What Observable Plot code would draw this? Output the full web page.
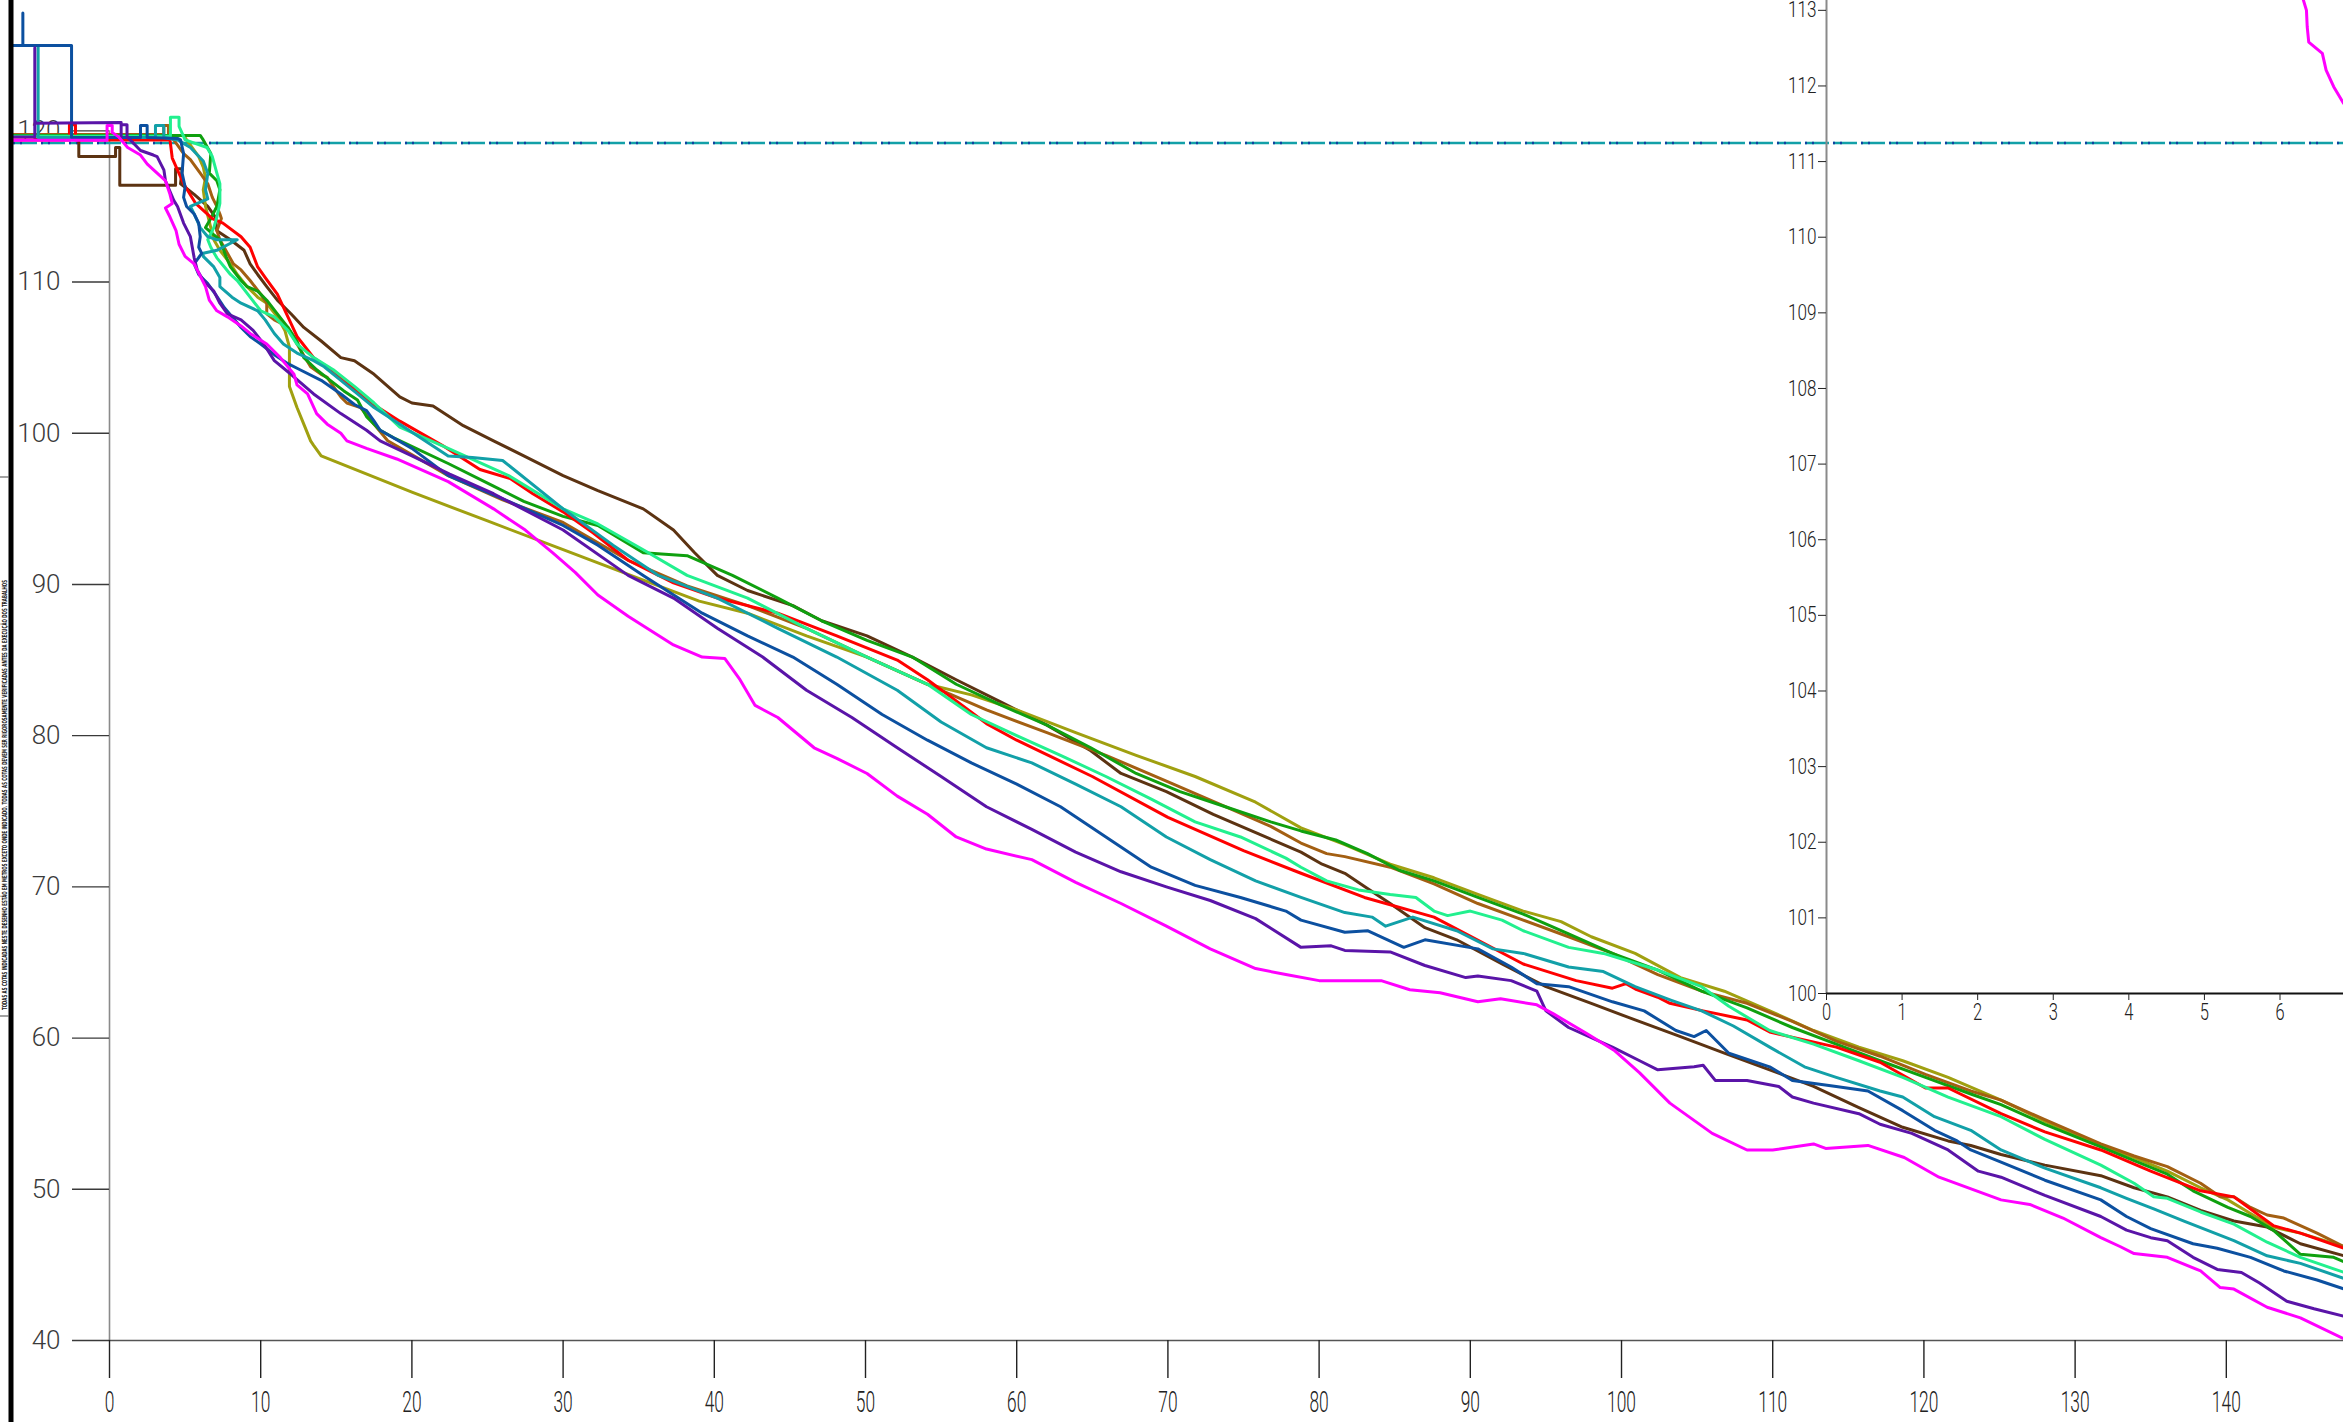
<!DOCTYPE html>
<html><head><meta charset="utf-8">
<script src="https://cdn.jsdelivr.net/npm/d3@7"></script>
<script src="https://cdn.jsdelivr.net/npm/@observablehq/plot@0.6"></script>
<style>
html,body{margin:0;padding:0;background:#fff;}
#wrap{position:relative;width:2343px;height:1422px;overflow:hidden;background:#fff;}
#main{position:absolute;left:0;top:0;}
#inset{position:absolute;left:1766px;top:0;}
#deco{position:absolute;left:0;top:0;pointer-events:none;}
</style></head><body>
<div id="wrap"><div id="main"></div><div id="inset"></div>
<svg id="deco" width="2343" height="1422"></svg></div>
<script>
// ---------- data ----------
const mainXTicks = [0,10,20,30,40,50,60,70,80,90,100,110,120,130,140];
const mainYTicks = [40,50,60,70,80,90,100,110,120];
const xExtent = [-6.35, 147.75];
const yExtent = [40, 128.62];
const dashLevel = 119.2;
const insetXTicks = [0,1,2,3,4,5,6];
const insetYTicks = [100,101,102,103,104,105,106,107,108,109,110,111,112,113];
const insetXExtent = [0, 6.84];
const insetYExtent = [100, 113.13];

const seriesNames  = ["magenta","purple","blue","teal","spring","red","green","olive","orange","brown"];
const seriesColors = ["#ff00ff","#5a14a8","#0c50a0","#12a0a8","#22f08e","#ff0000","#0fa00f","#a0a010","#a35f12","#5c3312"];

const magenta = [[-6.35,119.37],[-0.16,119.37],[-0.16,120.36],[0.18,120.36],[0.18,119.9],[0.6,119.6],[1.2,118.9],[2.05,118.4],[2.5,117.8],[3.15,117.2],[3.7,116.7],[4.0,115.8],[4.15,115.2],[3.7,114.9],[4.0,114.3],[4.4,113.4],[4.6,112.5],[5.0,111.7],[5.6,111.2],[6.35,109.7],[6.6,108.8],[7.1,108.1],[7.8,107.7],[8.7,107.1],[9.3,106.6],[10.4,105.9],[11.3,105.0],[12.2,103.9],[12.4,103.2],[13.1,102.6],[13.7,101.3],[14.4,100.6],[15.3,100.0],[15.7,99.5],[17,99.0],[19,98.3],[22.4,96.8],[25.4,95.0],[27.5,93.6],[29.3,92.1],[30.8,90.8],[32.3,89.3],[34.3,87.9],[37.3,86.0],[39.2,85.2],[40.7,85.1],[41.7,83.7],[42.7,82.0],[44.2,81.2],[46.6,79.2],[48.1,78.5],[50.1,77.5],[52.1,76.0],[54.1,74.8],[56.0,73.3],[58.0,72.5],[61.0,71.8],[63.9,70.3],[66.9,68.9],[69.9,67.4],[72.8,65.9],[75.8,64.6],[77.8,64.2],[80,63.8],[84.1,63.8],[86,63.2],[88,63.0],[90.5,62.4],[92,62.6],[94.4,62.2],[95.5,61.6],[97.7,60.3],[99.5,59.2],[101.2,57.7],[103.2,55.7],[106.0,53.7],[108.3,52.6],[110,52.6],[112.7,53.0],[113.5,52.7],[116.3,52.9],[118.7,52.1],[121.0,50.8],[125.1,49.3],[127,49.0],[129.2,48.1],[131.7,46.8],[133.0,46.2],[133.9,45.75],[136.1,45.5],[138.3,44.6],[139.6,43.5],[140.5,43.4],[142.7,42.2],[144.9,41.5],[147.8,40.1]];

const purple = [[-6.35,119.6],[-4.94,119.6],[-4.94,125.5],[-4.94,120.5],[0.77,120.55],[0.77,119.6],[0.77,120.4],[1.16,120.4],[1.16,119.6],[1.57,119.2],[2.05,118.7],[2.9,118.4],[3.15,118.3],[3.6,117.4],[3.7,116.7],[4.25,115.4],[4.5,115.0],[4.9,113.9],[5.35,113.0],[5.6,111.6],[5.8,110.8],[6.2,110.1],[6.9,109.4],[7.3,108.6],[7.8,107.9],[8.7,107.5],[9.5,106.8],[10.2,105.9],[10.9,104.8],[12.0,103.9],[13.5,102.6],[15.3,101.3],[17.0,100.2],[17.9,99.5],[20,98.5],[22.5,97.3],[25.4,96.0],[30,93.6],[34.3,90.6],[37.3,89.1],[40.2,87.1],[43.2,85.2],[46.1,83.0],[49.1,81.2],[52.1,79.2],[55.0,77.3],[58.0,75.3],[61.0,73.8],[63.9,72.3],[66.9,71.0],[69.9,70.0],[72.8,69.1],[75.8,67.9],[78.8,66.0],[80.8,66.1],[81.7,65.8],[84.7,65.7],[87.0,64.8],[89.7,64.0],[90.5,64.1],[92.7,63.8],[94.4,63.1],[95.0,61.8],[96.5,60.7],[99.4,59.4],[101.2,58.5],[102.4,57.9],[104.8,58.1],[105.4,58.2],[106.2,57.2],[108.3,57.2],[110.4,56.8],[111.3,56.1],[112.7,55.7],[115.7,55.0],[117.1,54.3],[119.2,53.7],[121.6,52.6],[123.6,51.2],[125.1,50.8],[128,49.6],[131.7,48.2],[133.4,47.3],[135.0,46.8],[136.1,46.6],[137.8,45.5],[139.4,44.7],[141.0,44.5],[142.2,43.8],[144.0,42.6],[145.8,42.1],[147.8,41.6]];

const blue = [[-6.35,125.65],[-5.73,125.65],[-5.73,127.8],[-5.73,125.65],[-2.51,125.65],[-2.51,119.56],[2.05,119.56],[2.05,120.36],[2.49,120.36],[2.49,119.56],[4.5,119.5],[4.7,119.4],[4.9,118.5],[4.8,117.2],[5.0,116.3],[4.9,115.6],[5.1,115.0],[5.6,114.5],[5.9,113.9],[6.0,113.0],[5.9,112.3],[6.1,111.9],[5.6,111.2],[5.9,110.5],[6.5,109.9],[7.0,109.2],[7.6,108.3],[8.1,107.7],[8.7,107.0],[9.3,106.4],[10.0,105.9],[10.9,105.2],[11.8,104.6],[12.6,104.2],[14.0,103.5],[15.3,102.6],[16.2,101.9],[17.0,101.5],[17.5,100.8],[17.9,100.2],[20,99.0],[22.4,97.2],[26.4,95.5],[30,93.9],[32.3,92.6],[35.3,90.6],[39.2,88.1],[42.2,86.6],[45.2,85.2],[48.1,83.4],[51.1,81.4],[54.1,79.7],[57.0,78.2],[60.0,76.8],[62.9,75.3],[65.9,73.3],[68.9,71.3],[71.8,70.1],[74.8,69.3],[77.8,68.4],[78.8,67.8],[81.7,67.0],[83.2,67.1],[85.6,66.0],[87.0,66.5],[90.5,65.9],[92.7,64.7],[94.4,63.6],[96.5,63.4],[99.4,62.4],[101.5,61.8],[103.6,60.5],[104.8,60.1],[105.6,60.5],[107.1,59.0],[109.8,58.1],[111.3,57.2],[114.2,56.8],[116.3,56.5],[118.6,55.2],[120.7,53.9],[122.2,53.2],[123.1,52.6],[125.1,51.8],[128,50.6],[131.7,49.3],[133.4,48.2],[135.0,47.4],[137.8,46.4],[139.4,46.1],[141.6,45.5],[143.8,44.6],[146.0,44.0],[147.8,43.4]];

const teal = [[-6.35,125.65],[-4.72,125.65],[-4.72,119.56],[3.04,119.56],[3.04,120.36],[3.59,120.36],[3.59,119.56],[4.5,119.4],[5.35,118.9],[6.2,118.0],[6.5,117.2],[6.35,116.1],[6.5,115.5],[5.35,115.0],[5.6,114.5],[6.0,113.6],[6.5,113.0],[7.1,112.8],[8.45,112.8],[7.1,112.1],[6.2,111.9],[6.2,111.7],[6.9,111.0],[7.3,110.3],[7.3,109.7],[8.1,109.0],[8.7,108.6],[9.8,108.1],[10.3,107.5],[10.9,106.6],[11.5,105.9],[12.4,105.3],[13.5,104.8],[14.2,104.4],[15.3,103.5],[16.4,102.6],[17.5,101.7],[19.2,100.6],[22.4,98.5],[24,98.4],[26,98.2],[30,95.0],[33.3,92.6],[36.3,90.6],[40.2,89.1],[44.2,87.1],[48.1,85.2],[52.1,83.0],[55.0,80.9],[58.0,79.2],[61.0,78.2],[63.9,76.8],[66.9,75.3],[69.9,73.3],[72.8,71.8],[75.8,70.4],[78.8,69.3],[81.7,68.3],[83.5,68.0],[84.4,67.4],[86.2,68.0],[89.1,67.1],[91.5,65.9],[93.5,65.6],[96.5,64.7],[98.8,64.4],[100.9,63.4],[103.3,62.5],[105.3,61.8],[107.4,60.8],[109.8,59.4],[112.1,58.1],[114.2,57.4],[117.1,56.5],[118.6,56.1],[120.7,54.8],[123.1,53.9],[125.1,52.6],[128,51.4],[131.7,50.1],[133.4,49.4],[135.2,48.7],[137.2,47.9],[140.5,46.6],[142.7,45.6],[144.9,45.1],[147.8,44.1]];

const spring = [[-6.35,119.65],[4.03,119.65],[4.03,120.9],[4.6,120.9],[4.6,120.3],[5.0,119.4],[6.45,118.9],[6.8,118.3],[7.1,117.2],[7.3,116.5],[7.3,115.2],[7.1,114.3],[6.9,113.6],[6.5,112.8],[6.7,112.3],[7.1,111.6],[7.6,111.0],[8.0,110.5],[8.45,110.1],[9.3,109.0],[10.0,108.1],[10.9,107.7],[11.8,106.8],[12.4,105.9],[13.5,105.0],[14.8,104.2],[16.2,103.1],[17.5,102.0],[19.2,100.4],[22.4,99.0],[26.4,97.2],[30,95.0],[32.3,94.0],[35.3,92.3],[38.2,90.6],[42.2,89.1],[46.1,87.1],[50.1,85.2],[54.1,83.4],[57.0,81.4],[60.0,80.0],[62.9,78.7],[65.9,77.3],[68.9,75.8],[71.8,74.3],[74.8,73.3],[77.8,71.9],[78.8,71.3],[80.5,70.4],[82.6,69.8],[84.7,69.5],[86.4,69.3],[87.6,68.4],[88.5,68.1],[90.0,68.4],[92.1,67.8],[93.5,67.1],[96.5,66.0],[98.8,65.6],[102.4,64.5],[105.3,63.4],[107.1,62.1],[109.8,60.5],[112.7,59.6],[115.7,58.5],[118.6,57.4],[121.6,56.1],[125.1,54.8],[128,53.3],[131.7,51.6],[133.9,50.4],[135.2,49.5],[136.1,49.4],[138.3,48.5],[140.5,47.7],[142.7,46.5],[144.9,45.5],[147.8,44.5]];

const red = [[-6.35,119.4],[-2.65,119.4],[-2.65,120.4],[-2.25,120.4],[-2.25,119.4],[4.0,119.4],[4.15,118.2],[4.9,116.5],[5.7,115.2],[6.8,114.2],[7.5,113.9],[8.7,113.0],[9.3,112.3],[9.8,111.0],[10.3,110.3],[11.1,109.2],[11.8,107.7],[12.4,106.4],[13.5,105.0],[15.3,103.7],[17.0,102.2],[18.4,101.3],[19.2,100.8],[22,99.2],[24.5,97.6],[26.5,97.0],[28,96.0],[30,94.8],[32,93.4],[34.3,91.6],[37.3,90.1],[40.2,89.1],[44.2,88.1],[48.1,86.6],[52.1,85.0],[54.1,83.7],[56,82.3],[58,80.8],[60,79.7],[65,77.3],[70,74.6],[75,72.4],[78.8,70.9],[83,69.3],[87.6,68.0],[93.5,64.9],[97,63.8],[99.4,63.3],[100.3,63.6],[101,63.2],[102.4,62.7],[103.2,62.3],[105.4,61.8],[108.3,61.2],[109.8,60.4],[114.2,59.4],[117.1,58.4],[120.1,56.7],[121.6,56.7],[125.1,55.0],[128,53.8],[131.7,52.6],[135,51.2],[138.3,49.9],[140.5,49.5],[143.1,47.6],[144.9,47.1],[147.8,46.1]];

const green = [[-6.35,119.7],[6.0,119.7],[6.2,119.4],[6.7,118.5],[6.6,117.2],[7.1,116.7],[7.3,116.1],[7.1,115.0],[6.7,114.2],[6.35,113.6],[6.8,113.2],[7.3,112.8],[7.7,111.7],[8.0,111.0],[8.7,110.1],[9.1,109.7],[9.8,109.4],[10.4,108.8],[11.1,107.9],[11.8,107.0],[12.4,106.1],[12.85,105.0],[13.7,104.2],[14.6,103.5],[15.5,102.8],[16.4,102.2],[17.0,101.1],[17.9,100.2],[18.8,99.7],[22.4,98.0],[25.4,96.5],[27.4,95.5],[30,94.5],[32.3,93.9],[35.3,92.1],[38.2,91.9],[41.2,90.6],[44.2,89.1],[47.1,87.6],[50.1,86.3],[53.1,85.2],[56.0,83.4],[59.0,82.0],[62.0,80.7],[64.9,79.2],[67.9,77.5],[70.8,76.3],[73.8,75.3],[76.8,74.3],[78.8,73.7],[81.1,73.1],[83.2,72.2],[85.3,71.1],[87.6,70.4],[90.5,69.3],[93.5,68.2],[96.5,66.9],[99.4,65.6],[102.4,64.5],[105.3,63.1],[108.3,62.0],[111.3,60.7],[114.2,59.6],[117.1,58.5],[120.1,57.4],[123.1,56.3],[125.1,55.6],[128,54.3],[131.7,52.8],[133.9,51.9],[136.1,51.0],[137.8,49.9],[140.1,48.8],[141.6,48.2],[143.1,47.3],[144.9,45.7],[147.1,45.5],[147.8,45.2]];

const olive = [[-6.35,119.7],[4.9,119.7],[5.1,119.4],[5.9,118.3],[6.2,117.6],[6.35,116.9],[6.2,116.1],[6.35,115.0],[6.7,113.6],[6.9,112.8],[7.3,112.1],[8.0,111.2],[8.45,110.5],[9.1,109.7],[9.8,109.0],[10.4,108.6],[11.1,107.7],[11.6,106.8],[11.9,105.7],[11.9,103.9],[11.9,103.1],[12.4,101.7],[12.85,100.6],[13.3,99.5],[13.5,99.2],[14.0,98.5],[20,96.1],[25,94.2],[30,92.3],[35,90.4],[39,88.9],[42.2,88.1],[46.1,86.6],[50.1,85.2],[54.1,83.4],[57.0,82.7],[60,81.7],[63.9,80.2],[67.9,78.7],[71.8,77.3],[75.8,75.6],[78.8,73.9],[81.7,72.8],[84.7,71.5],[87.6,70.6],[90.5,69.5],[93.5,68.4],[96.0,67.7],[98.0,66.7],[100.9,65.6],[103.9,64.0],[106.8,63.1],[109.8,61.8],[112.7,60.5],[115.7,59.4],[118.6,58.5],[121.6,57.4],[125.1,55.9],[128,54.5],[131.7,52.9],[133.9,52.1],[136.1,51.2],[138.3,50.1],[140.1,49.3],[141.6,48.4],[143.1,47.5],[144.9,47.1],[147.8,46.2]];

const orange = [[-6.35,119.75],[3.59,119.75],[3.59,120.36],[3.9,120.36],[3.9,119.7],[4.25,119.4],[4.9,118.5],[5.35,118.1],[6.0,117.2],[6.5,116.5],[6.8,115.6],[7.1,115.0],[7.3,114.5],[7.4,114.2],[7.1,113.4],[7.3,112.8],[7.8,111.9],[8.2,111.2],[8.7,110.8],[9.3,110.1],[10.0,109.2],[10.4,108.6],[10.4,107.9],[10.9,107.5],[11.3,107.3],[11.8,107.0],[12.4,105.9],[13.3,104.4],[14.0,103.9],[14.4,103.7],[14.8,103.1],[15.3,102.4],[15.7,102.0],[16.6,101.7],[17.5,100.6],[18.4,99.5],[22.4,97.2],[26,95.6],[30,94.1],[34.3,91.6],[38.2,89.9],[42.2,88.6],[46.1,87.1],[50.1,85.2],[54.1,83.4],[58.0,81.7],[62.0,80.2],[65.9,78.7],[69.9,77.0],[73.8,75.3],[76.8,74.0],[78.8,72.9],[80.5,72.2],[81.7,72.0],[84.7,71.3],[87.6,70.2],[90.5,68.9],[93.5,67.8],[96.5,66.7],[99.4,65.6],[102.4,64.2],[105.3,63.1],[108.3,62.3],[111.3,61.1],[114.2,59.8],[117.1,58.8],[120.1,57.6],[123.1,56.5],[125.1,55.9],[128,54.6],[131.7,53.0],[133.9,52.2],[136.1,51.5],[138.3,50.4],[139.6,49.5],[140.5,49.5],[141.6,48.8],[142.7,48.3],[143.8,48.1],[146.0,47.1],[147.8,46.2]];

const brown = [[-2.9,119.6],[-2.03,119.6],[-2.03,118.3],[0.40,118.3],[0.40,118.9],[0.68,118.9],[0.68,116.4],[4.37,116.4],[4.37,117.5],[4.81,117.5],[4.7,116.5],[5.6,115.8],[6.5,115.0],[7.0,114.3],[7.1,113.4],[8.0,112.8],[8.9,112.1],[9.3,111.2],[9.8,110.5],[10.4,109.7],[11.1,108.8],[12.0,107.9],[12.85,107.0],[14.0,106.1],[15.3,105.0],[16.2,104.8],[17.5,103.9],[19.2,102.4],[20,102.0],[21.4,101.8],[23.4,100.5],[25.4,99.5],[27.4,98.5],[30,97.2],[32.3,96.2],[35.3,95.0],[37.3,93.6],[38.7,92.1],[40.2,90.6],[42.2,89.6],[45.2,88.6],[47.1,87.6],[50.1,86.6],[53.1,85.2],[56.0,83.7],[59.0,82.2],[62.0,80.7],[64.9,79.0],[66.9,77.5],[69.9,76.3],[73,74.8],[76,73.5],[78.8,72.3],[80.2,71.5],[81.7,70.9],[83.2,69.9],[84.7,68.9],[87.0,67.3],[89.1,66.5],[92.1,64.9],[95.0,63.4],[98.0,62.3],[100.9,61.2],[103.9,60.1],[106.8,59.0],[109.8,57.9],[112.7,56.8],[115.7,55.4],[118.6,54.1],[121.6,53.2],[123.1,52.9],[125.1,52.3],[128,51.6],[131.7,50.9],[133.9,50.1],[136.1,49.5],[138.3,48.6],[140.5,47.9],[142.7,47.5],[144.9,46.4],[147.8,45.6]];

const insetMagenta = [[6.29,113.2],[6.35,113.0],[6.36,112.78],[6.38,112.58],[6.56,112.43],[6.61,112.21],[6.71,111.99],[6.84,111.77]];

const noteText = "TODAS AS COTAS INDICADAS NESTE DESENHO ESTÃO EM METROS EXCETO ONDE INDICADO. TODAS AS COTAS DEVEM SER RIGOROSAMENTE VERIFICADAS ANTES DA EXECUÇÃO DOS TRABALHOS";

// ---------- build ----------
const seriesData = [magenta, purple, blue, teal, spring, red, green, olive, orange, brown];
const drawOrder = [9, 7, 8, 6, 5, 4, 3, 2, 1, 0];
const table = [];
for (const i of drawOrder) {
  seriesData[i].forEach(([x, y], k) => table.push({name: seriesNames[i], color: seriesColors[i], x, y, k}));
}

const fontStack = "'Roboto Light', 'Lato Light', Roboto, 'Liberation Sans', sans-serif";

const main = Plot.plot({
  width: 2343, height: 1422,
  marginLeft: 109, marginRight: 0, marginTop: 0, marginBottom: 82,
  x: {domain: [0, xExtent[1]], label: null},
  y: {domain: yExtent, label: null},
  color: {type: "identity"},
  style: {background: "transparent", fontFamily: fontStack, fontWeight: 300, overflow: "visible"},
  marks: [
    Plot.ruleX([0], {y1: mainYTicks[0], y2: d3.max(mainYTicks), stroke: "#8a8a8a", strokeWidth: 1.6}),
    Plot.ruleY([mainYTicks[0]], {x1: 0, x2: xExtent[1], stroke: "#555", strokeWidth: 1.6}),
    Plot.axisY(mainYTicks, {tickSize: 37, tickPadding: 12, fontSize: 26, color: "#3a3a3a", strokeWidth: 1.4}),
    Plot.axisX(mainXTicks, {tickSize: 38, tickPadding: 13, fontSize: 29, color: "#222", strokeWidth: 1.4}),
    Plot.ruleY([dashLevel], {x1: xExtent[0], x2: xExtent[1], stroke: "#13a0a8", strokeWidth: 2.6, strokeDasharray: "24 4"}),
    Plot.ruleY([dashLevel], {x1: xExtent[0], x2: xExtent[1], stroke: "#1040a0", strokeWidth: 2.6, strokeDasharray: "2 5 2 19"}),
    Plot.line(table, {x: "x", y: "y", z: "name", stroke: "color", strokeWidth: 3, strokeLinejoin: "round", strokeLinecap: "round"})
  ]
});
document.getElementById("main").appendChild(main);

const inset = Plot.plot({
  width: 577, height: 1033,
  marginLeft: 60, marginRight: 0, marginTop: 0, marginBottom: 40,
  x: {domain: insetXExtent, label: null},
  y: {domain: insetYExtent, label: null},
  style: {background: "transparent", fontFamily: fontStack, fontWeight: 300, overflow: "visible"},
  marks: [
    Plot.ruleX([0], {stroke: "#8a8a8a", strokeWidth: 2}),
    Plot.ruleY([insetYExtent[0]], {stroke: "#111", strokeWidth: 2}),
    Plot.axisY(insetYTicks, {tickSize: 8, tickPadding: 2, fontSize: 22, color: "#222", tickFormat: "d"}),
    Plot.axisX(insetXTicks, {tickSize: 7, tickPadding: 3, fontSize: 23, color: "#222", tickFormat: "d"}),
    Plot.line(insetMagenta, {x: d => d[0], y: d => d[1], stroke: "#ff00ff", strokeWidth: 3, clip: true})
  ]
});
document.getElementById("inset").appendChild(inset);

// condensed tick labels
function condense(svg, sel, s) {
  svg.querySelectorAll(sel).forEach(t => {
    const tr = t.getAttribute("transform") || "";
    t.setAttribute("transform", tr + ` scale(${s},1)`);
  });
}
condense(main, 'g[aria-label="x-axis tick label"] text', 0.6);
condense(inset, 'g[aria-label="x-axis tick label"] text', 0.72);
condense(inset, 'g[aria-label="y-axis tick label"] text', 0.78);

// left border decorations
const deco = d3.select("#deco");
deco.append("rect").attr("x", 8.5).attr("y", 0).attr("width", 5).attr("height", 1422).attr("fill", "#000");
deco.append("line").attr("x1", 0).attr("x2", 9).attr("y1", 477).attr("y2", 477).attr("stroke", "#666").attr("stroke-width", 1.2);
deco.append("line").attr("x1", 0).attr("x2", 9).attr("y1", 1016).attr("y2", 1016).attr("stroke", "#666").attr("stroke-width", 1.2);
deco.append("text").attr("transform", "translate(6.5,795) rotate(-90)")
  .attr("text-anchor", "middle").attr("font-family", "'DejaVu Sans Condensed', 'Liberation Sans Narrow', sans-serif")
  .attr("font-weight", "bold").attr("font-size", 7).attr("fill", "#222")
  .attr("textLength", 430).attr("lengthAdjust", "spacingAndGlyphs").text(noteText);
</script>
</body></html>
